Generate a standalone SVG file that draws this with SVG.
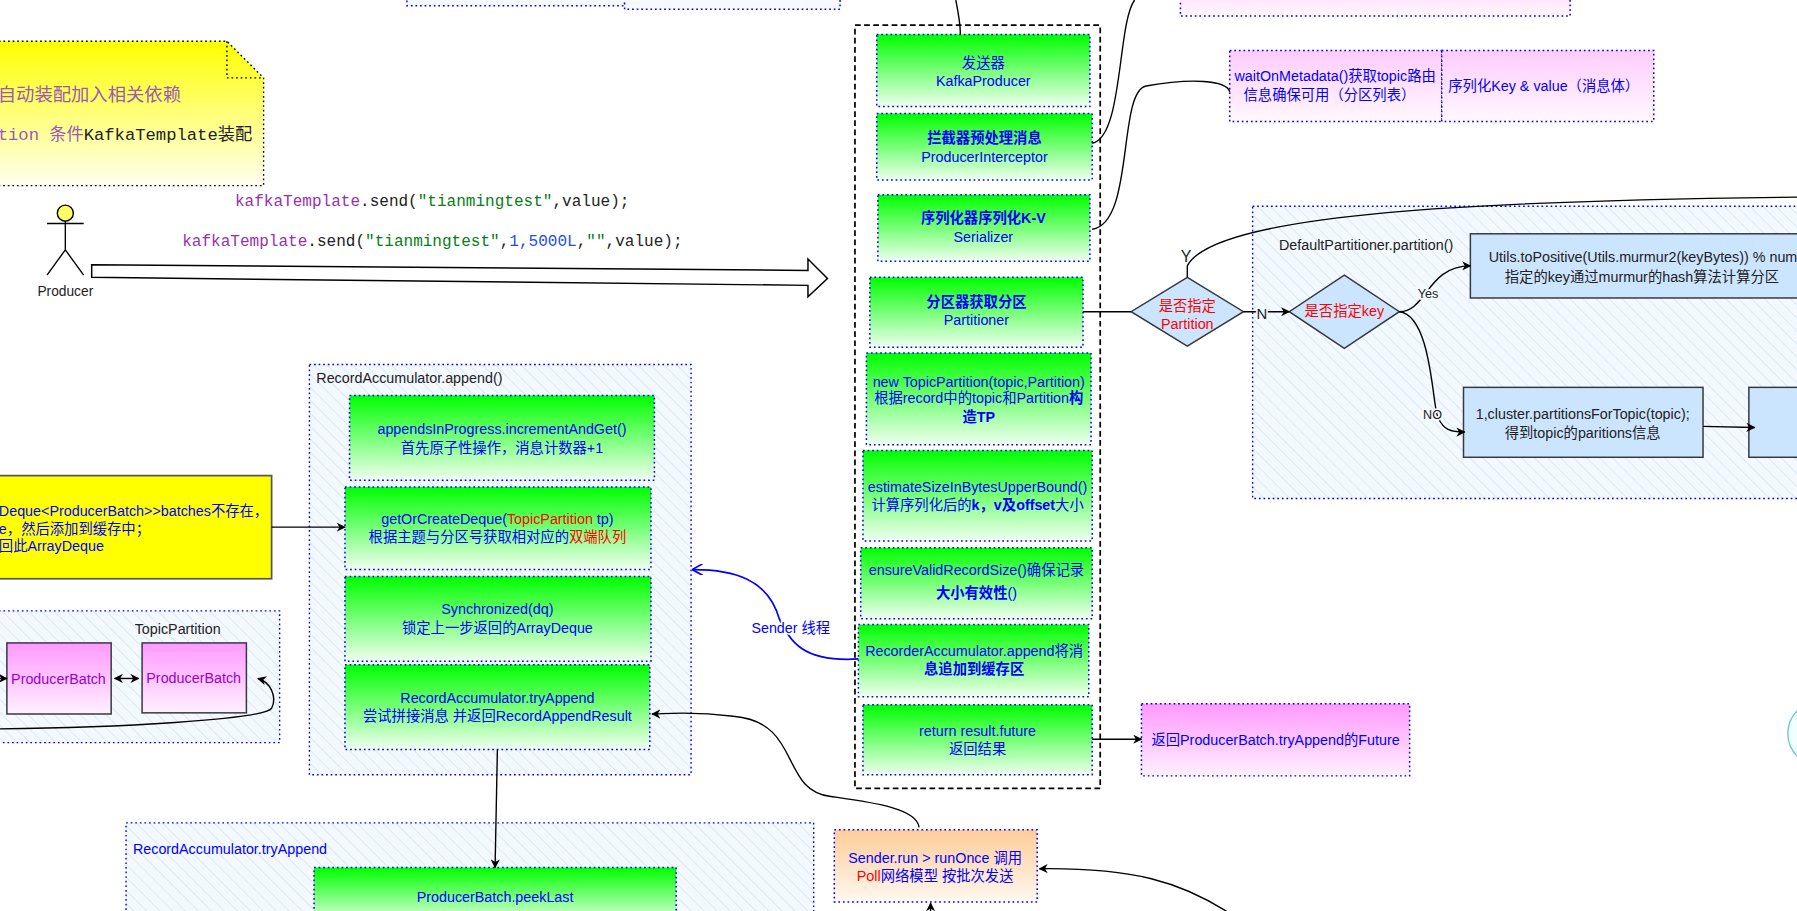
<svg xmlns="http://www.w3.org/2000/svg" width="1797" height="911" viewBox="0 0 1797 911">
<defs>
<linearGradient id="gg" x1="0" y1="0" x2="0" y2="1"><stop offset="0" stop-color="#00ff00"/><stop offset="1" stop-color="#f0fff0"/></linearGradient>
<linearGradient id="pg" x1="0" y1="0" x2="0" y2="1"><stop offset="0" stop-color="#ff99ff"/><stop offset="1" stop-color="#fff0ff"/></linearGradient>
<linearGradient id="pl" x1="0" y1="0" x2="0" y2="1"><stop offset="0" stop-color="#ffccff"/><stop offset="1" stop-color="#fff8ff"/></linearGradient>
<linearGradient id="yg" x1="0" y1="0" x2="0" y2="1"><stop offset="0" stop-color="#ffff00"/><stop offset="1" stop-color="#fffff0"/></linearGradient>
<linearGradient id="og" x1="0" y1="0" x2="0" y2="1"><stop offset="0" stop-color="#ffcc99"/><stop offset="1" stop-color="#fff8f0"/></linearGradient>
<pattern id="hat" width="8" height="8" patternUnits="userSpaceOnUse" patternTransform="rotate(-45)"><rect width="8" height="8" fill="#f4f9ff"/><line x1="0" y1="0" x2="0" y2="8" stroke="#c9dcf2" stroke-width="1"/></pattern>
<marker id="ar" viewBox="0 0 10 10" refX="9" refY="5" markerWidth="8" markerHeight="8" orient="auto-start-reverse" markerUnits="userSpaceOnUse"><path d="M0,0 L10,5 L0,10 L3,5 z" fill="#000"/></marker>
<marker id="ab" viewBox="0 0 10 10" refX="9" refY="5" markerWidth="10" markerHeight="10" orient="auto" markerUnits="userSpaceOnUse"><path d="M9,0 L0,5 L9,10" fill="none" stroke="#0000ff" stroke-width="1.5" transform="rotate(180 5 5)"/></marker>
</defs>
<style>
text{font-family:"Liberation Sans","Noto Sans CJK SC",sans-serif;font-size:12.5px;fill:#0000ff;text-anchor:middle}
.l{text-anchor:start}
.k{fill:#222}
.r{fill:#ff0000}
.b{font-weight:bold}
.code{font-family:"Liberation Mono","Noto Sans CJK SC",monospace;font-size:14px;text-anchor:start;fill:#222}
.g{fill:url(#gg);stroke:#0000ff;stroke-width:1.3;stroke-dasharray:1.5 2.5}
.p{fill:url(#pl);stroke:#0000ff;stroke-width:1.3;stroke-dasharray:1.5 2.5}
.h{fill:url(#hat);stroke:#0000ff;stroke-width:1.2;stroke-dasharray:1.5 2.5}
.bl{fill:#cce5ff;stroke:#36393d;stroke-width:1.3}
.c{fill:none;stroke:#000;stroke-width:1.2}
</style>
<g transform="scale(1.14605)">
<g id="topboxes">
<rect x="355" y="-20" width="190" height="25" class="p" fill="#f4f9ff" style="fill:#f6f9ff"/>
<rect x="545" y="-20" width="188" height="28" class="p" style="fill:#f6f9ff"/>
<rect x="1030" y="-20" width="340" height="34" class="p"/>
</g>
<g id="note">
<path d="M-5,36 L198,36 L230,68 L230,162 L-5,162 Z" fill="url(#yg)" stroke="#000" stroke-width="1.2" stroke-dasharray="1.5 2.5"/>
<path d="M198,36 L198,68 L230,68" fill="none" stroke="#000" stroke-width="1.2" stroke-dasharray="1.5 2.5"/>
<text x="-2" y="88" class="l" style="font-family:'Noto Sans CJK SC',serif;font-size:16px;fill:#9b59b6">自动装配加入相关依赖</text>
<text x="-2" y="122" class="l" style="font-family:'Liberation Mono','Noto Sans CJK SC',monospace;font-size:15px;fill:#9b59b6">tion 条件<tspan fill="#222">KafkaTemplate装配</tspan></text>
</g>
<g id="code">
<text x="205" y="180" class="code"><tspan fill="#9b2fae">kafkaTemplate</tspan>.send(<tspan fill="#067d17">"tianmingtest"</tspan>,value);</text>
<text x="159" y="215" class="code"><tspan fill="#9b2fae">kafkaTemplate</tspan>.send(<tspan fill="#067d17">"tianmingtest"</tspan>,<tspan fill="#1750eb">1,5000L</tspan>,<tspan fill="#067d17">""</tspan>,value);</text>
</g>
<g id="producer">
<circle cx="57" cy="186" r="7" fill="#ffff66" stroke="#000" stroke-width="1.2"/>
<path d="M57,193 V218 M41,195 H73 M57,218 L41,240 M57,218 L73,240" class="c"/>
<text x="57" y="258" class="k" style="font-size:12px">Producer</text>
</g>
<g id="bigarrow"><path d="M80,231 L705,236 L705,226 L722,243 L705,259 L705,249 L80,242 Z" fill="#fff" stroke="#000" stroke-width="1.3"/></g>
<g id="producerbox"><rect x="746" y="22" width="214" height="666" fill="none" stroke="#000" stroke-width="1.5" stroke-dasharray="5 3"/></g>
<g id="n1"><rect x="765" y="30" width="186" height="63" class="g"/><text x="858" y="59">发送器</text><text x="858" y="75">KafkaProducer</text></g>
<g id="n2"><rect x="765" y="99" width="188" height="58" class="g"/><text x="859" y="125" class="b">拦截器预处理消息</text><text x="859" y="141">ProducerInterceptor</text></g>
<g id="n3"><rect x="766" y="170" width="185" height="58" class="g"/><text x="858" y="195" class="b">序列化器序列化K-V</text><text x="858" y="211">Serializer</text></g>
<g id="n4"><rect x="759" y="242" width="186" height="61" class="g"/><text x="852" y="268" class="b">分区器获取分区</text><text x="852" y="284">Partitioner</text></g>
<g id="n5"><rect x="756" y="308" width="196" height="80" class="g"/><text x="854" y="338">new TopicPartition(topic,Partition)</text><text x="854" y="352">根据record中的topic和Partition<tspan class="b">构</tspan></text><text x="854" y="368" class="b">造TP</text></g>
<g id="n6"><rect x="753" y="393" width="200" height="79" class="g"/><text x="853" y="429">estimateSizeInBytesUpperBound()</text><text x="853" y="445">计算序列化后的<tspan class="b">k，v及offset</tspan>大小</text></g>
<g id="n7"><rect x="751" y="478" width="202" height="62" class="g"/><text x="852" y="502">ensureValidRecordSize()确保记录</text><text x="852" y="522" class="b">大小有效性<tspan style="font-weight:normal">()</tspan></text></g>
<g id="n8"><rect x="749" y="545" width="201" height="63" class="g"/><text x="850" y="572">RecorderAccumulator.append将消</text><text x="850" y="588" class="b">息追加到缓存区</text></g>
<g id="n9"><rect x="753" y="615" width="200" height="61" class="g"/><text x="853" y="642">return result.future</text><text x="853" y="658">返回结果</text></g>
<g id="meta"><rect x="1073" y="44" width="185" height="62" class="p"/><text x="1165" y="71">waitOnMetadata()获取topic路由</text><text x="1160" y="87">信息确保可用（分区列表）</text></g>
<g id="ser"><rect x="1258" y="44" width="185" height="62" class="p"/><text x="1347" y="79">序列化Key &amp; value（消息体）</text></g>
<g id="dp"><rect x="1093" y="180" width="490" height="255" class="h"/><text x="1116" y="218" class="l k">DefaultPartitioner.partition()</text></g>
<g id="d1"><path d="M1036,242 L1085,272 L1036,302 L987,272 Z" class="bl"/><text x="1036" y="271" class="r">是否指定</text><text x="1036" y="287" class="r">Partition</text></g>
<g id="d2"><path d="M1173,240 L1221,272 L1173,304 L1125,272 Z" class="bl"/><text x="1173" y="276" class="r">是否指定key</text></g>
<g id="utils"><rect x="1283" y="204" width="300" height="56" class="bl"/><text x="1299" y="229" class="l k">Utils.toPositive(Utils.murmur2(keyBytes)) % num</text><text x="1313" y="246" class="l k">指定的key通过murmur的hash算法计算分区</text></g>
<g id="cluster"><rect x="1277" y="338" width="209" height="61" class="bl"/><text x="1381" y="366" class="k">1,cluster.partitionsForTopic(topic);</text><text x="1381" y="382" class="k">得到topic的paritions信息</text></g>
<g id="cluster2"><rect x="1526" y="338" width="60" height="61" class="bl"/></g>
<g id="future"><rect x="996" y="614" width="234" height="63" class="p" style="fill:url(#pg)"/><text x="1113" y="650">返回ProducerBatch.tryAppend的Future</text></g>
<g id="circ"><circle cx="1588" cy="640" r="28" fill="#f0ffff" stroke="#66cccc" stroke-width="1.2"/></g>
<g id="rapp"><rect x="270" y="318" width="333" height="358" class="h"/><text x="276" y="334" class="l k">RecordAccumulator.append()</text></g>
<g id="a1"><rect x="305" y="345" width="266" height="74" class="g"/><text x="438" y="379">appendsInProgress.incrementAndGet()</text><text x="438" y="395">首先原子性操作，消息计数器+1</text></g>
<g id="a2"><rect x="301" y="425" width="267" height="72" class="g"/><text x="434" y="457">getOrCreateDeque(<tspan class="r">TopicPartition</tspan> tp)</text><text x="434" y="473">根据主题与分区号获取相对应的<tspan class="r">双端队列</tspan></text></g>
<g id="a3"><rect x="301" y="503" width="267" height="74" class="g"/><text x="434" y="536">Synchronized(dq)</text><text x="434" y="552">锁定上一步返回的ArrayDeque</text></g>
<g id="a4"><rect x="301" y="580" width="266" height="74" class="g"/><text x="434" y="613">RecordAccumulator.tryAppend</text><text x="434" y="629">尝试拼接消息 并返回RecordAppendResult</text></g>
<g id="ybox"><rect x="-5" y="415" width="242" height="90" fill="#ffff00" stroke="#555" stroke-width="1.5"/><text x="-1" y="450" class="l">Deque&lt;ProducerBatch&gt;&gt;batches不存在，</text><text x="-1" y="466" class="l">e，然后添加到缓存中；</text><text x="-1" y="481" class="l">回此ArrayDeque</text></g>
<g id="tp"><rect x="-5" y="533" width="249" height="115" class="h"/><text x="155" y="553" class="k">TopicPartition</text></g>
<g id="pb1"><rect x="6" y="561" width="91" height="62" fill="url(#pg)" stroke="#36393d" stroke-width="1.3"/><text x="51" y="597" style="fill:#9900cc">ProducerBatch</text></g>
<g id="pb2"><rect x="124" y="561" width="91" height="61" fill="url(#pg)" stroke="#36393d" stroke-width="1.3"/><text x="169" y="596" style="fill:#9900cc">ProducerBatch</text></g>
<g id="rtry"><rect x="110" y="718" width="600" height="90" class="h"/><text x="116" y="745" class="l">RecordAccumulator.tryAppend</text></g>
<g id="peek"><rect x="274" y="757" width="316" height="50" class="g"/><text x="432" y="787">ProducerBatch.peekLast</text></g>
<g id="sender"><rect x="728" y="724" width="177" height="63" class="g" style="fill:url(#og)"/><text x="816" y="753">Sender.run &gt; runOnce 调用</text><text x="816" y="769"><tspan class="r">Poll</tspan>网络模型 按批次发送</text></g>
<g id="connectors">
<path d="M834,0 C836,10 838,20 838,30" class="c"/>
<path d="M953,125 C980,120 975,20 990,0" class="c"/>
<path d="M953,200 C990,195 975,80 1000,75 C1040,68 1070,70 1073,80" class="c"/>
<path d="M945,272 H987" class="c"/>
<path d="M1036,242 L1036,232 C1060,185 1300,175 1568,172" class="c"/>
<text x="1035" y="229" class="k" style="font-size:14px">Y</text>
<path d="M1085,272 H1125" class="c" marker-end="url(#ar)"/>
<text x="1101" y="278" class="k" style="font-size:13px;fill:#222;paint-order:stroke;stroke:#f4f9ff;stroke-width:3">N</text>
<path d="M1221,272 C1245,272 1245,232 1283,232" class="c" marker-end="url(#ar)"/>
<text x="1246" y="260" class="k" style="font-size:11px;paint-order:stroke;stroke:#f4f9ff;stroke-width:3">Yes</text>
<path d="M1221,272 C1250,275 1250,360 1255,365 C1260,375 1265,377 1278,377" class="c" marker-end="url(#ar)"/>
<text x="1250" y="366" class="k" style="font-size:11px;paint-order:stroke;stroke:#f4f9ff;stroke-width:3">NO</text>
<path d="M1486,372 L1531,373" class="c" marker-end="url(#ar)"/>
<path d="M953,645 H996" class="c" marker-end="url(#ar)"/>
<path d="M237,460 H301" class="c" marker-end="url(#ar)"/>
<path d="M-5,592 H6" class="c" marker-end="url(#ar)"/>
<path d="M100,592 H121" class="c" marker-start="url(#ar)" marker-end="url(#ar)"/>
<path d="M-5,636 C100,635 230,628 237,618 C242,608 236,595 225,592" class="c" marker-end="url(#ar)"/>
<path d="M749,575 C700,578 690,560 680,540 C670,505 640,497 605,497" fill="none" stroke="#0000ff" stroke-width="1.5" marker-end="url(#ab)"/>
<text x="690" y="552" style="paint-order:stroke;stroke:#fff;stroke-width:3">Sender 线程</text>
<path d="M802,722 C800,705 760,700 725,695 C680,690 700,630 640,625 C600,620 580,623 569,623" class="c" marker-end="url(#ar)"/>
<path d="M434,654 L432,757" class="c" marker-end="url(#ar)"/>
<path d="M1070,795 C1030,770 990,757 907,758" class="c" marker-end="url(#ar)"/>
<path d="M812,800 V788" class="c" marker-end="url(#ar)"/>
</g>
</g>
</svg>
